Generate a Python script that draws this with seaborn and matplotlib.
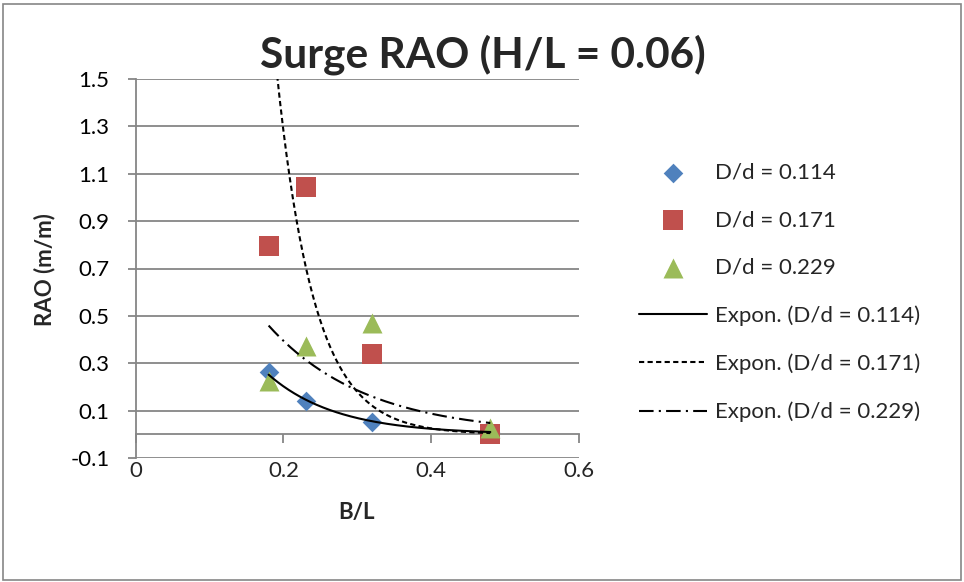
import numpy as np
import pandas as pd
import matplotlib
matplotlib.use("Agg")
import matplotlib.pyplot as plt
from matplotlib.patches import Rectangle
import seaborn as sns

# ---- data ----
b_over_l = [0.18, 0.23, 0.32, 0.48]
rao_114 = [0.264, 0.142, 0.053, 0.010]
rao_171 = [0.795, 1.045, 0.339, 0.003]
rao_229 = [0.225, 0.371, 0.470, 0.028]
series_labels = ["D/d = 0.114", "D/d = 0.171", "D/d = 0.229"]
x_ticks = [0, 0.2, 0.4, 0.6]
x_tick_labels = ["0", "0.2", "0.4", "0.6"]
y_ticks = [-0.1, 0.1, 0.3, 0.5, 0.7, 0.9, 1.1, 1.3, 1.5]
y_tick_labels = ["-0.1", "0.1", "0.3", "0.5", "0.7", "0.9", "1.1", "1.3", "1.5"]
title = "Surge RAO (H/L = 0.06)"
x_label = "B/L"
y_label = "RAO (m/m)"

sns.set_style("white")
plt.rcParams["font.family"] = ["Lato", "DejaVu Sans"]

GRAY = "#868686"
colors = ["#4F81BD", "#C0504D", "#9BBB59"]
markers = ["D", "s", "^"]
msizes = [100, 222, 207]
styles = ["-", (0, (2.5, 1.6)), (0, (7, 2.5, 1, 2.5))]

fig = plt.figure(figsize=(9.64, 5.82), dpi=100)
ax = fig.add_axes([135.6 / 964, (582 - 458) / 582, (579 - 135.6) / 964, (458 - 79) / 582])

series = [rao_114, rao_171, rao_229]

# markers
for ys, lab, c, m, s in zip(series, series_labels, colors, markers, msizes):
    df = pd.DataFrame({"x": b_over_l, "y": ys})
    sns.scatterplot(data=df, x="x", y="y", ax=ax, color=c, marker=m, s=s,
                    linewidth=0, label=lab, zorder=3)

# exponential trendlines (least squares on log y, like Excel)
for ys, lab, ls in zip(series, series_labels, styles):
    b, a = np.polyfit(b_over_l, np.log(ys), 1)
    xs = np.linspace(min(b_over_l), max(b_over_l), 200)
    fit = pd.DataFrame({"x": xs, "y": np.exp(a + b * xs)})
    sns.lineplot(data=fit, x="x", y="y", ax=ax, color="black", linewidth=1.5,
                 linestyle=ls, label=f"Expon. ({lab})", zorder=4)

ax.set_xlim(0, 0.6)
ax.set_ylim(-0.1, 1.5)

# y axis
ax.set_yticks(y_ticks)
ax.set_yticklabels(y_tick_labels)
ax.yaxis.grid(True, color=GRAY, linewidth=1.3)
ax.xaxis.grid(False)
ax.tick_params(axis="y", direction="out", length=5.8, width=1.3, color=GRAY,
               pad=12.9, labelsize=16, labelcolor="black", left=True)
ax.spines["left"].set_color(GRAY)
ax.spines["left"].set_linewidth(1.3)
ax.spines["top"].set_visible(False)
ax.spines["right"].set_visible(False)

# x axis line crossing at y = 0, labels at the bottom
ax.spines["bottom"].set_position(("data", 0))
ax.spines["bottom"].set_color(GRAY)
ax.spines["bottom"].set_linewidth(1.3)
ax.set_xticks(x_ticks)
ax.tick_params(axis="x", direction="out", length=6.5, width=1.3, color=GRAY,
               labelbottom=False, bottom=True)
sec = ax.secondary_xaxis("bottom")
sec.set_xticks(x_ticks)
sec.set_xticklabels(x_tick_labels)
sec.tick_params(length=0, pad=2, labelsize=16)
for sp in sec.spines.values():
    sp.set_visible(False)

ax.set_xlabel("")
ax.set_ylabel("")
fig.text(357 / 964, 1 - 512 / 582, x_label, ha="center", va="center",
         fontsize=16, fontweight="bold")
fig.text(45 / 964, 1 - 270 / 582, y_label, ha="center", va="center",
         rotation=90, fontsize=16, fontweight="bold")
fig.text(483 / 964, 1 - 55 / 582, title, ha="center", va="center",
         fontsize=30.5, fontweight="bold")

# legend
handles, labels = ax.get_legend_handles_labels()
if ax.get_legend() is not None:
    ax.get_legend().remove()
fig.legend(handles, labels, loc="center left",
           bbox_to_anchor=(639 / 964, 1 - 292.5 / 582),
           frameon=False, fontsize=16, borderpad=0, borderaxespad=0,
           handlelength=3.06, handletextpad=0.36, labelspacing=1.24)

# chart border
fig.patches.append(Rectangle((3 / 964, 2 / 582), 958 / 964, 576 / 582,
                             transform=fig.transFigure, fill=False,
                             edgecolor=GRAY, linewidth=1.2))

fig.savefig("out.png", dpi=100)
